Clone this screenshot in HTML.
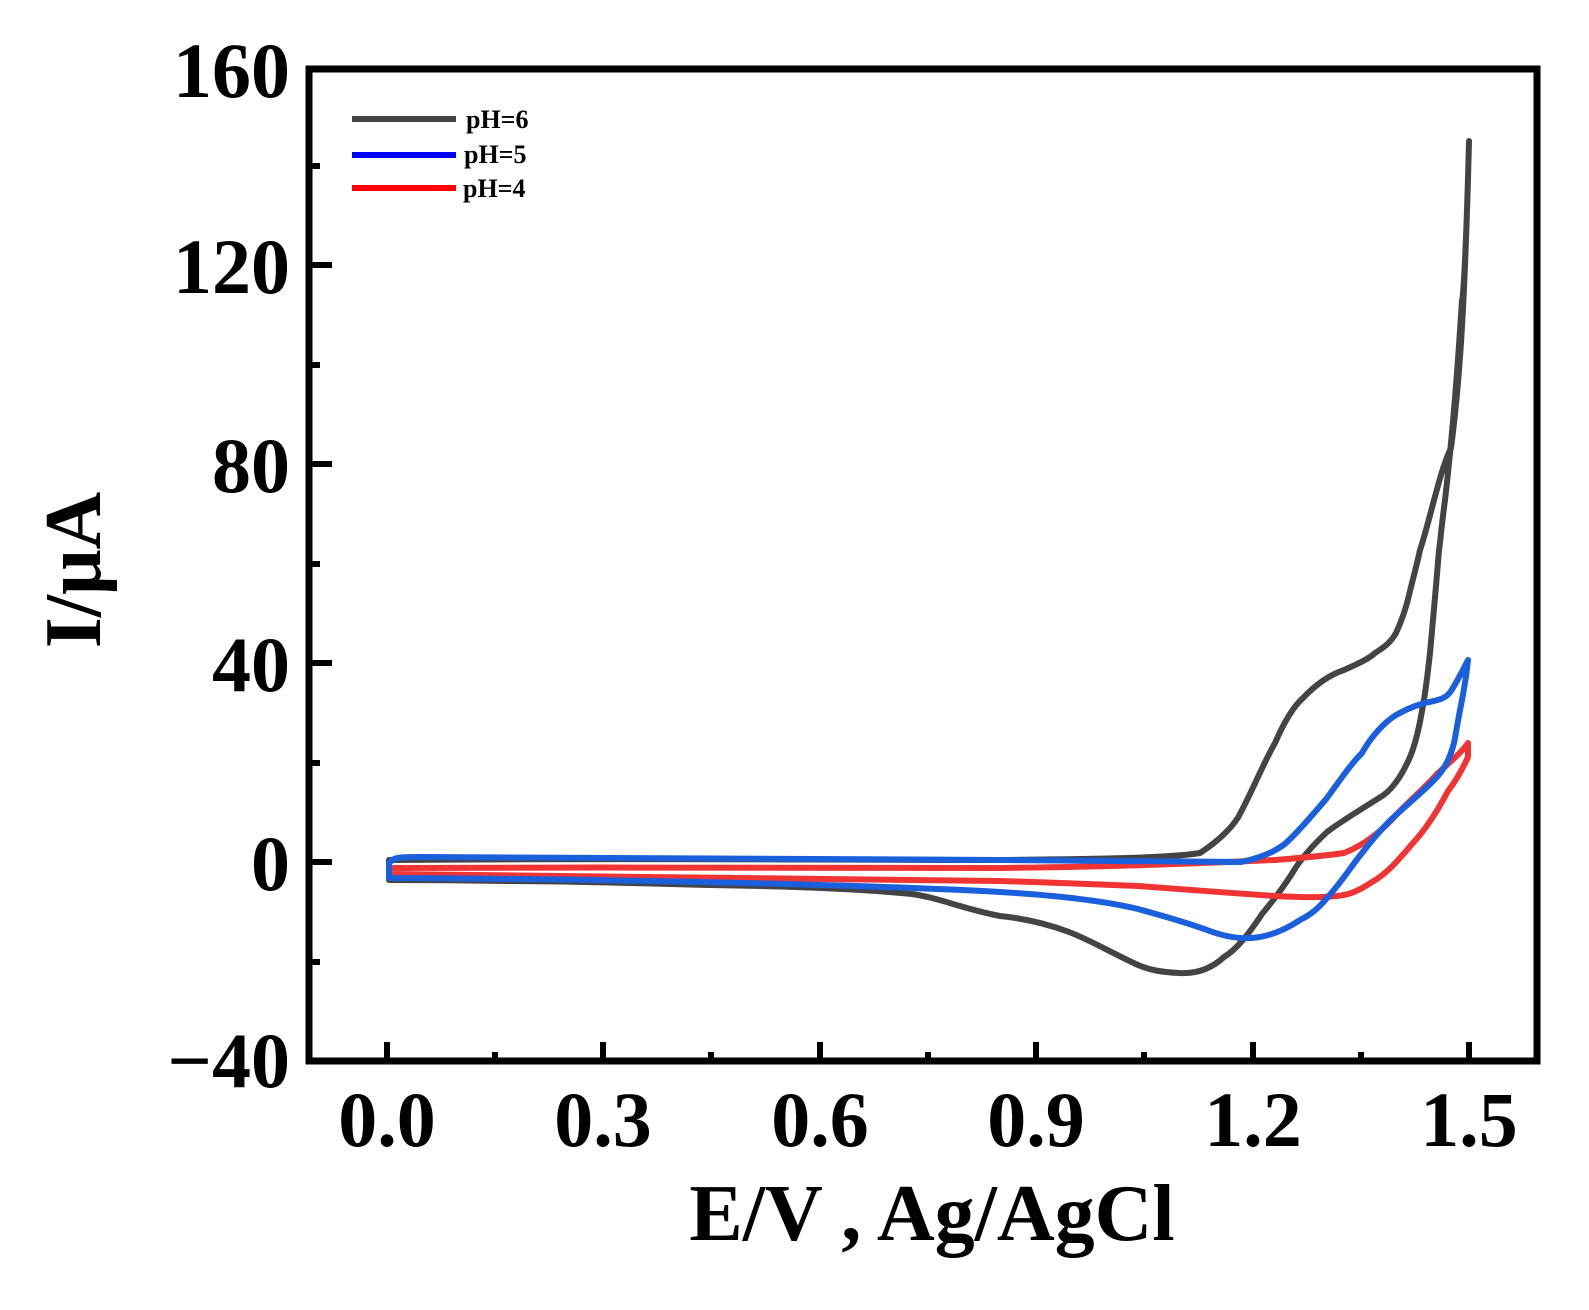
<!DOCTYPE html>
<html><head><meta charset="utf-8"><style>html,body{margin:0;padding:0;background:#fff}svg{display:block}</style></head>
<body>
<svg width="1589" height="1310" viewBox="0 0 1589 1310" xmlns="http://www.w3.org/2000/svg" font-family="Liberation Serif, serif" font-weight="bold">
<rect width="1589" height="1310" fill="#fff"/>
<g fill="none" stroke-width="6" stroke-linejoin="round" stroke-linecap="round">
<path stroke="#444" d="M389,870 L389,860 C600,858 900,860 1000,860 C1100,859 1170,858 1200,853 C1220,840 1235,825 1241,812 C1255,785 1265,760 1275,743 C1285,720 1295,705 1303,698 C1320,680 1335,673 1344,670 C1360,663 1370,658 1375,653 C1388,645 1392,640 1396,633 C1402,620 1407,605 1410,591 C1414,575 1418,560 1420,550 C1430,520 1440,470 1451,448 C1460,380 1465,300 1469,141 L1469,141 C1466,260 1463,300 1462,300 C1457,380 1452,440 1445,500 C1441,530 1440,545 1439,550 C1435,600 1432,630 1430,653 C1427,680 1425,695 1423,705 C1419,730 1415,745 1410,757 C1400,780 1390,792 1379,798 C1360,810 1340,822 1327,832 C1310,848 1300,860 1293,872 C1283,888 1272,902 1262,914 C1248,935 1236,950 1224,957 C1210,970 1195,974 1179,973 C1160,972 1150,970 1138,965 C1110,952 1090,940 1069,932 C1045,923 1020,918 1000,916 C960,908 940,898 912,894 C850,888 780,886 709,885 C600,882 550,881 507,881 C450,880 420,880 389,880 Z"/>
<path stroke="#f03434" d="M389,874 L389,868 C600,867 900,868 1000,868 C1150,866 1200,863 1275,860 C1300,858 1330,855 1344,853 C1365,845 1385,828 1396,815 C1410,800 1425,788 1437,774 C1450,762 1462,752 1468,743 L1468,757 C1462,770 1455,782 1448,791 C1438,810 1425,830 1413,843 C1400,858 1388,873 1372,882 C1360,890 1350,895 1337,896 C1315,898 1295,897 1275,896 C1230,893 1180,889 1138,886 C1090,884 1040,882 1000,881 C800,878 600,876 389,874 Z"/>
<path stroke="#1a5fdc" d="M389,878 L389,864 C392,857 400,857 420,857 C700,857 900,858 1000,860 C1100,861 1200,862 1241,862 C1260,858 1275,852 1286,843 C1300,830 1315,812 1327,798 C1338,783 1350,765 1362,753 C1372,735 1385,722 1396,715 C1410,707 1422,703 1434,701 C1442,699 1447,697 1451,691 C1458,680 1463,670 1468,660 C1466,680 1463,695 1461,705 C1458,720 1456,733 1454,743 C1450,758 1445,768 1437,777 C1425,790 1410,802 1396,815 C1385,825 1372,840 1362,853 C1350,868 1340,884 1327,898 C1318,909 1310,915 1300,920 C1285,930 1268,937 1251,938 C1235,939 1220,935 1207,930 C1185,922 1160,915 1138,909 C1100,900 1050,895 1000,892 C850,884 600,879 389,878 Z"/>
</g>
<rect x="309" y="69" width="1228" height="992" fill="none" stroke="#000" stroke-width="7"/>
<g stroke="#000" stroke-width="6">
<line x1="387" y1="1061" x2="387" y2="1042"/><line x1="603" y1="1061" x2="603" y2="1042"/><line x1="820" y1="1061" x2="820" y2="1042"/><line x1="1036" y1="1061" x2="1036" y2="1042"/><line x1="1253" y1="1061" x2="1253" y2="1042"/><line x1="1469" y1="1061" x2="1469" y2="1042"/>
<line x1="495" y1="1061" x2="495" y2="1052"/><line x1="711" y1="1061" x2="711" y2="1052"/><line x1="928" y1="1061" x2="928" y2="1052"/><line x1="1144" y1="1061" x2="1144" y2="1052"/><line x1="1361" y1="1061" x2="1361" y2="1052"/>
<line x1="309" y1="862" x2="332" y2="862"/><line x1="309" y1="663" x2="332" y2="663"/><line x1="309" y1="464" x2="332" y2="464"/><line x1="309" y1="265" x2="332" y2="265"/>
<line x1="309" y1="962" x2="320" y2="962"/><line x1="309" y1="763" x2="320" y2="763"/><line x1="309" y1="564" x2="320" y2="564"/><line x1="309" y1="365" x2="320" y2="365"/><line x1="309" y1="166" x2="320" y2="166"/>
</g>
<g font-size="78" text-anchor="end" fill="#000">
<text x="290" y="97">160</text><text x="290" y="293">120</text><text x="290" y="492">80</text><text x="290" y="691">40</text><text x="290" y="890">0</text><text x="290" y="1087">−40</text>
</g>
<g font-size="78" text-anchor="middle" fill="#000">
<text x="387" y="1146">0.0</text><text x="603" y="1146">0.3</text><text x="820" y="1146">0.6</text><text x="1036" y="1146">0.9</text><text x="1253" y="1146">1.2</text><text x="1469" y="1146">1.5</text>
</g>
<text x="932" y="1240" font-size="80" text-anchor="middle">E/V , Ag/AgCl</text>
<text transform="translate(100,570) rotate(-90)" font-size="80" text-anchor="middle">I/μA</text>
<g stroke-width="6">
<line x1="352" y1="119" x2="456" y2="119" stroke="#444"/>
<line x1="352" y1="155" x2="456" y2="155" stroke="#0000ff"/>
<line x1="352" y1="188" x2="456" y2="188" stroke="#ff0000"/>
</g>
<g font-size="26" fill="#000">
<text x="466" y="128">pH=6</text><text x="464" y="163">pH=5</text><text x="463" y="197">pH=4</text>
</g>
</svg>
</body></html>
